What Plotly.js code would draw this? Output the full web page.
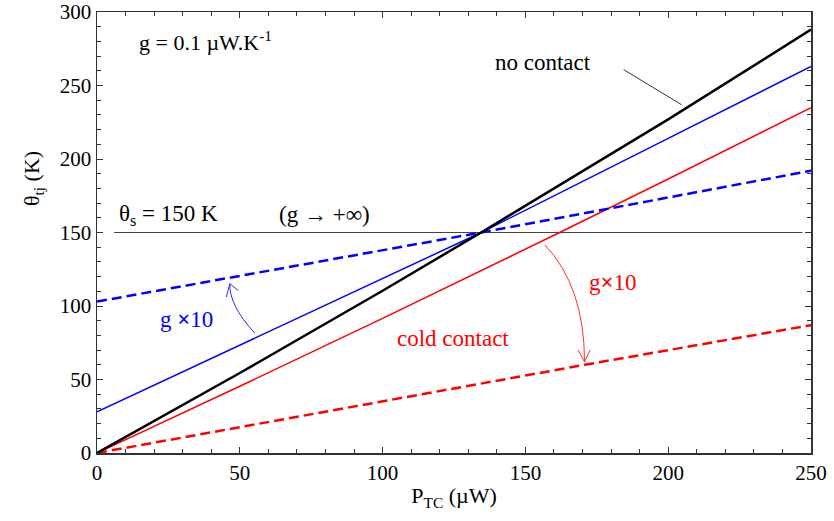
<!DOCTYPE html>
<html>
<head>
<meta charset="utf-8">
<script src="https://cdn.plot.ly/plotly-3.0.1.min.js"></script>
<style>html,body{margin:0;padding:0;background:#fff}#chart{width:834px;height:521px}</style>
</head>
<body>
<div id="chart"></div>
<script>
// Power P_TC (µW) and junction temperature (K)
const noContactX = [0, 50, 100, 134.5, 200, 250];
const noContactY = [0, 54.4, 110.4, 150, 227, 288];

const blueSolidX = [0, 50, 100, 134.5, 200, 250];
const blueSolidY = [28, 73.5, 118.5, 150, 214, 263];

const blueDashX = [0, 134.5, 250];
const blueDashY = [103, 150, 192];

const coldX = [0, 50, 100, 162, 200, 250];
const coldY = [0, 45.4, 91.6, 150, 186.4, 235];

const coldDashX = [0, 100, 170.8, 250];
const coldDashY = [0, 35, 60, 87];

const sinkX = [6, 247];
const sinkY = [150, 150];

const xTicks = [0, 50, 100, 150, 200, 250];
const yTicks = [0, 50, 100, 150, 200, 250, 300];

const serif = 'Liberation Serif';

const traces = [
  {x: sinkX, y: sinkY, mode: 'lines', line: {color: '#444', width: 1}},
  {x: coldDashX, y: coldDashY, mode: 'lines', line: {color: '#ff0000', width: 2.5, dash: '10px,5px'}},
  {x: coldX, y: coldY, mode: 'lines', line: {color: '#ff0000', width: 1.5}},
  {x: blueDashX, y: blueDashY, mode: 'lines', line: {color: '#0000ff', width: 2.5, dash: '10px,5px'}},
  {x: blueSolidX, y: blueSolidY, mode: 'lines', line: {color: '#0000ff', width: 1.5}},
  {x: noContactX, y: noContactY, mode: 'lines', line: {color: '#000000', width: 2.5}}
];

const axisCommon = {
  showgrid: false, zeroline: false, showline: true, linecolor: '#333', linewidth: 1.5,
  mirror: 'allticks', ticks: 'inside', ticklen: 6, tickwidth: 1, tickcolor: '#333',
  tickfont: {family: serif, size: 21, color: '#000'},
  minor: {ticks: 'inside', ticklen: 4, tickwidth: 1, tickcolor: '#333', dtick: 10}
};

const layout = {
  width: 834, height: 521,
  margin: {l: 97, r: 23, t: 12, b: 68},
  showlegend: false,
  font: {family: serif},
  xaxis: Object.assign({}, axisCommon, {
    range: [0, 250], tickvals: xTicks, ticktext: xTicks.map(String),
    title: {text: 'P<sub>TC</sub> (µW)', font: {family: serif, size: 22, color: '#000'}, standoff: 4}
  }),
  yaxis: Object.assign({}, axisCommon, {
    range: [0, 300], tickvals: yTicks, ticktext: yTicks.map(String)
  }),
  annotations: [
    {xref: 'paper', yref: 'paper', x: -0.111, y: 0.623, text: 'θ<sub>tj</sub> (K)', textangle: -90,
     showarrow: false, font: {family: serif, size: 22, color: '#000'}},
    {x: 13.9, y: 280, xanchor: 'left', text: 'g = 0.1 µW.K<sup>-1</sup>', showarrow: false,
     font: {family: serif, size: 22, color: '#000'}},
    {x: 138.6, y: 265.7, xanchor: 'left', text: 'no contact', showarrow: false,
     font: {family: serif, size: 23, color: '#000'}},
    {x: 6.9, y: 162, xanchor: 'left', text: 'θ<sub>s</sub> = 150 K', showarrow: false,
     font: {family: serif, size: 23, color: '#000'}},
    {x: 62.9, y: 162, xanchor: 'left', text: '(g <b>→</b> +∞)', showarrow: false,
     font: {family: serif, size: 23, color: '#000'}},
    {x: 21.3, y: 90.5, xanchor: 'left', text: 'g <b>×</b>10', showarrow: false,
     font: {family: serif, size: 23, color: '#0000ff'}},
    {x: 171.5, y: 115.7, xanchor: 'left', text: 'g<b>×</b>10', showarrow: false,
     font: {family: serif, size: 23, color: '#ff0000'}},
    {x: 104.2, y: 78.2, xanchor: 'left', text: 'cold contact', showarrow: false,
     font: {family: serif, size: 23, color: '#ff0000'}}
  ],
  shapes: [
    {type: 'line', xref: 'x', yref: 'y', x0: 184.4, y0: 260.8, x1: 204.7, y1: 236.9,
     line: {color: '#000', width: 0.8}},
    {type: 'path', xref: 'x', yref: 'y', path: 'M 55.2,81.6 Q 46.2,100.7 46.5,115.2',
     line: {color: '#2a2aff', width: 1}},
    {type: 'path', xref: 'x', yref: 'y', path: 'M 45.3,106.1 L 46.5,115.2 L 49.4,110.6',
     line: {color: '#2a2aff', width: 1}},
    {type: 'path', xref: 'x', yref: 'y', path: 'M 156.8,141.6 Q 170.7,113.2 170.7,62.0',
     line: {color: '#ff3030', width: 1}},
    {type: 'path', xref: 'x', yref: 'y', path: 'M 168.4,70.2 L 170.7,62.0 L 172.7,70.2',
     line: {color: '#ff3030', width: 1}}
  ]
};

Plotly.newPlot('chart', traces, layout, {displayModeBar: false, staticPlot: true});
</script>
</body>
</html>
